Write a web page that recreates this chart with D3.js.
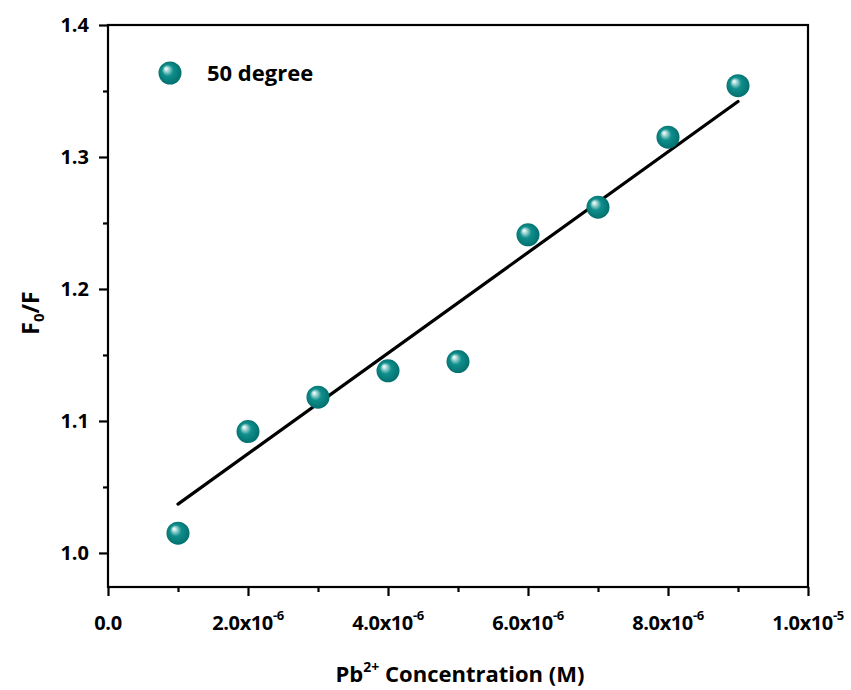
<!DOCTYPE html>
<html>
<head>
<meta charset="utf-8">
<script src="https://cdn.jsdelivr.net/npm/d3@7"></script>
<style>
  html, body { margin: 0; padding: 0; background: #fff; }
  svg { display: block; font-family: "Open Sans", Lato, sans-serif; font-weight: bold; }
</style>
</head>
<body>
<svg id="chart" width="851" height="690"></svg>
<script>
// Pb2+ concentration (M) and measured F0/F ratio at 50 degrees
const concentration = [1e-6, 2e-6, 3e-6, 4e-6, 5e-6, 6e-6, 7e-6, 8e-6, 9e-6];
const ratio = [1.015, 1.092, 1.118, 1.138, 1.145, 1.241, 1.262, 1.315, 1.354];

// Linear fit, endpoints at the first and last concentration
const fitX = [1e-6, 9e-6];
const fitY = [1.037, 1.342];

const xTicks = [0, 2e-6, 4e-6, 6e-6, 8e-6, 1e-5];
const xTickMantissa = ["0.0", "2.0", "4.0", "6.0", "8.0", "1.0"];
const xTickExponent = [null, "-6", "-6", "-6", "-6", "-5"];
const yTicks = [1.0, 1.1, 1.2, 1.3, 1.4];
const seriesName = "50 degree";

const svg = d3.select("#chart");
const plotLeft = 108, plotRight = 808, plotTop = 25, plotBottom = 587;

const x = d3.scaleLinear().domain([0, 1e-5]).range([plotLeft, plotRight]);
const y = d3.scaleLinear().domain([0.9742, 1.4]).range([plotBottom, plotTop]);

// Sphere gradient for markers
const defs = svg.append("defs");
const grad = defs.append("radialGradient")
  .attr("id", "ball").attr("cx", "0.5").attr("cy", "0.5").attr("r", "0.55")
  .attr("fx", "0.32").attr("fy", "0.3");
grad.append("stop").attr("offset", "0").attr("stop-color", "#ffffff");
grad.append("stop").attr("offset", "0.12").attr("stop-color", "#c8e8e6");
grad.append("stop").attr("offset", "0.45").attr("stop-color", "#0f8f8c");
grad.append("stop").attr("offset", "0.85").attr("stop-color", "#057574");
grad.append("stop").attr("offset", "1").attr("stop-color", "#006a6a");

// Axes with outward major and minor ticks
const xMinor = d3.range(0, 11).map(i => i * 1e-6);
const yMinor = d3.range(0, 9).map(i => 1.0 + i * 0.05).filter(v => v <= 1.4001);

const gx = svg.append("g").attr("transform", `translate(0,${plotBottom})`);
gx.call(d3.axisBottom(x).tickValues(xMinor).tickSize(5).tickFormat(""));
gx.call(g => g.selectAll(".tick").filter(d => xTicks.some(t => Math.abs(t - d) < 1e-9))
  .select("line").attr("y2", 9));
gx.select(".domain").remove();
gx.selectAll("line").attr("stroke", "#000").attr("stroke-width", 2.2);

const gy = svg.append("g").attr("transform", `translate(${plotLeft},0)`);
gy.call(d3.axisLeft(y).tickValues(yMinor).tickSize(5).tickFormat(""));
gy.call(g => g.selectAll(".tick").filter(d => yTicks.some(t => Math.abs(t - d) < 1e-9))
  .select("line").attr("x2", -9));
gy.select(".domain").remove();
gy.selectAll("line").attr("stroke", "#000").attr("stroke-width", 2.2);

// Frame
svg.append("rect")
  .attr("x", plotLeft).attr("y", plotTop)
  .attr("width", plotRight - plotLeft).attr("height", plotBottom - plotTop)
  .attr("fill", "none").attr("stroke", "#000").attr("stroke-width", 2.2);

// X tick labels with power-of-ten notation
xTicks.forEach((t, i) => {
  const txt = svg.append("text")
    .attr("x", x(t)).attr("y", 630)
    .attr("text-anchor", "middle")
    .attr("font-size", 20).attr("letter-spacing", -0.4).attr("fill", "#000");
  if (xTickExponent[i] === null) {
    txt.text(xTickMantissa[i]);
  } else {
    txt.append("tspan").text(xTickMantissa[i] + "x10");
    txt.append("tspan").attr("font-size", 13).attr("dy", -10).text(xTickExponent[i]);
  }
});

// Y tick labels
yTicks.forEach(t => {
  svg.append("text")
    .attr("x", 89).attr("y", y(t) + 7)
    .attr("text-anchor", "end")
    .attr("font-size", 20).attr("fill", "#000")
    .text(t.toFixed(1));
});

// Axis titles
const xt = svg.append("text")
  .attr("x", 460).attr("y", 682)
  .attr("text-anchor", "middle").attr("font-size", 22).attr("fill", "#000");
xt.append("tspan").text("Pb");
xt.append("tspan").attr("font-size", 14).attr("dy", -10).text("2+");
xt.append("tspan").attr("dy", 10).text(" Concentration (M)");

const yt = svg.append("text")
  .attr("transform", "translate(39,313) rotate(-90)")
  .attr("text-anchor", "middle").attr("font-size", 23).attr("fill", "#000");
yt.append("tspan").text("F");
yt.append("tspan").attr("font-size", 15).attr("dy", 5).text("0");
yt.append("tspan").attr("dy", -5).text("/F");

// Fit line
svg.append("line")
  .attr("x1", x(fitX[0])).attr("y1", y(fitY[0]))
  .attr("x2", x(fitX[1])).attr("y2", y(fitY[1]))
  .attr("stroke", "#000").attr("stroke-width", 3.2).attr("stroke-linecap", "round");

// Data markers
svg.append("g").selectAll("circle")
  .data(concentration.map((c, i) => [c, ratio[i]]))
  .join("circle")
  .attr("cx", d => x(d[0])).attr("cy", d => y(d[1]))
  .attr("r", 11.5).attr("fill", "url(#ball)");

// Legend
svg.append("circle").attr("cx", 170).attr("cy", 73).attr("r", 11.5).attr("fill", "url(#ball)");
svg.append("text").attr("x", 207).attr("y", 81)
  .attr("font-size", 22).attr("fill", "#000").text(seriesName);
</script>
</body>
</html>
